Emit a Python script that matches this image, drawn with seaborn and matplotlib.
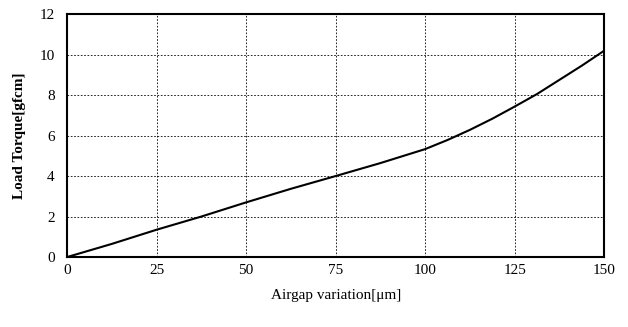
import pandas as pd
import matplotlib
matplotlib.use("Agg")
import matplotlib.pyplot as plt
import seaborn as sns

# Data
airgap = [0, 12.5, 25, 37.5, 50, 62.5, 75, 87.5, 100, 106.25, 112.5, 118.75,
          125, 131.25, 137.5, 143.75, 150]
torque = [0.0, 0.65, 1.35, 2.0, 2.7, 3.37, 4.0, 4.64, 5.33, 5.78, 6.28, 6.83,
          7.43, 8.05, 8.75, 9.45, 10.19]
x_ticks = [0, 25, 50, 75, 100, 125, 150]
y_ticks = [0, 2, 4, 6, 8, 10, 12]

sns.set_theme(style="white")
plt.rcParams["font.family"] = ["Liberation Serif", "DejaVu Serif"]

df = pd.DataFrame({"airgap": airgap, "torque": torque})

fig = plt.figure(figsize=(6.28, 3.27), dpi=100)
ax = fig.add_axes([0.107, 0.214, 0.855, 0.743])

sns.lineplot(data=df, x="airgap", y="torque", ax=ax, color="black", linewidth=1.5)

ax.set_xlim(0, 150)
ax.set_ylim(0, 12)
ax.set_xticks(x_ticks)
ax.set_yticks(y_ticks)
ax.tick_params(axis="x", length=0, labelsize=11, colors="black", pad=5)
ax.tick_params(axis="y", length=0, labelsize=11, colors="black", pad=9)
ax.grid(True, color="black", linestyle=(0, (2, 2)), linewidth=0.6)
for s in ax.spines.values():
    s.set_color("black")
    s.set_linewidth(1.5)

ax.set_xlabel("Airgap variation[μm]", fontsize=11, color="black", labelpad=9)
ax.set_ylabel("Load Torque[gfcm]", fontsize=11, color="black", fontweight="bold", labelpad=10)

fig.savefig("out.png", dpi=100)
